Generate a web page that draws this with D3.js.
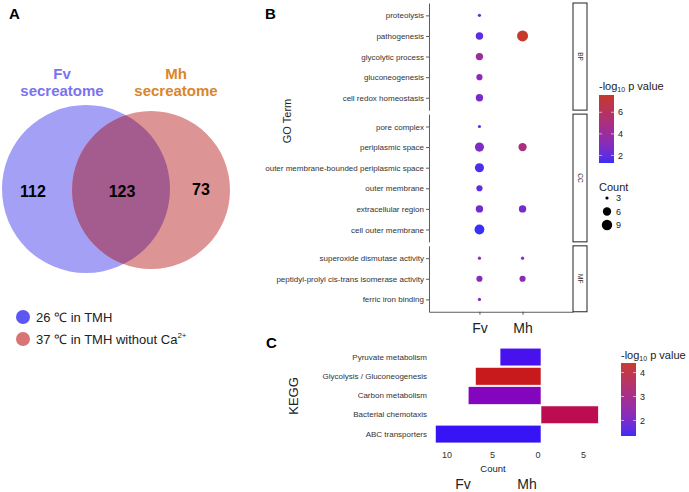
<!DOCTYPE html>
<html>
<head>
<meta charset="utf-8">
<script src="https://cdn.jsdelivr.net/npm/d3@7"></script>
<style>
  body { margin: 0; background: #fff; }
  svg { font-family: "Liberation Sans", Arial, sans-serif; }
</style>
</head>
<body>
<svg id="fig" width="689" height="492"></svg>
<script>
// ---- panel A: venn ----
const vennNames = ["Fv", "Mh"];
const vennCounts = [112, 123, 73]; // Fv only, shared, Mh only
const vennLegend = ["26 ℃ in TMH", "37 ℃ in TMH without Ca"];

// ---- panel B: GO dot plot ----
const goTerms = ["proteolysis", "pathogenesis", "glycolytic process", "gluconeogenesis", "cell redox homeostasis",
  "pore complex", "periplasmic space", "outer membrane-bounded periplasmic space", "outer membrane",
  "extracellular region", "cell outer membrane",
  "superoxide dismutase activity", "peptidyl-prolyl cis-trans isomerase activity", "ferric iron binding"];
const goGroups = ["BP", "BP", "BP", "BP", "BP", "CC", "CC", "CC", "CC", "CC", "CC", "MF", "MF", "MF"];
const groupNames = ["Fv", "Mh"];
const fvCount = [3, 5, 5, 4, 5, 3, 7, 7, 4, 5, 8, 3, 4, 3];
const fvLogP = [2.0, 1.8, 4.2, 3.2, 2.5, 2.0, 2.8, 1.6, 1.8, 2.5, 1.3, 2.9, 3.0, 2.6];
const mhCount = [null, 10, null, null, null, null, 6, null, null, 5, null, 3, 4, null];
const mhLogP = [null, 7.6, null, null, null, null, 5.0, null, null, 2.5, null, 3.0, 3.2, null];
const countBreaks = [3, 6, 9];
const logPBreaksB = [2, 4, 6];

// ---- panel C: KEGG bars ----
const keggTerms = ["Pyruvate metabolism", "Glycolysis / Gluconeogenesis", "Carbon metabolism",
  "Bacterial chemotaxis", "ABC transporters"];
const keggFv = [4.5, 7.2, 8.0, 0, 11.6];
const keggMh = [0, 0, 0, 6.3, 0];
const keggLogP = [1.45, 4.4, 2.1, 3.7, 1.35];
const keggTicks = [-10, -5, 0, 5];
const logPBreaksC = [2, 3, 4];

const svg = d3.select("#fig");

// panel letters
[["A", 9, 19], ["B", 265, 19], ["C", 266, 348]].forEach(([t, x, y]) =>
  svg.append("text").attr("x", x).attr("y", y).attr("font-size", 15).attr("font-weight", "bold").text(t));

// ===== A =====
const gA = svg.append("g");
const cFv = { x: 86, y: 189, r: 84 }, cMh = { x: 151, y: 190, r: 79 };
gA.append("clipPath").attr("id", "fvclip").append("circle")
  .attr("cx", cFv.x).attr("cy", cFv.y).attr("r", cFv.r);
gA.append("circle").attr("cx", cFv.x).attr("cy", cFv.y).attr("r", cFv.r).attr("fill", "#a3a0f6");
gA.append("circle").attr("cx", cMh.x).attr("cy", cMh.y).attr("r", cMh.r).attr("fill", "#dd9494");
gA.append("circle").attr("cx", cMh.x).attr("cy", cMh.y).attr("r", cMh.r).attr("fill", "#a45b8e")
  .attr("clip-path", "url(#fvclip)");

const vennTitleColor = ["#7a73f1", "#d9862c"];
[62, 176].forEach((x, i) => {
  const t = gA.append("text").attr("text-anchor", "middle").attr("font-weight", "bold")
    .attr("font-size", 15).attr("fill", vennTitleColor[i]);
  t.append("tspan").attr("x", x).attr("y", 79).text(vennNames[i]);
  t.append("tspan").attr("x", x).attr("y", 96).text("secreatome");
});
[[33, 197], [122, 197], [201, 195]].forEach(([x, y], i) =>
  gA.append("text").attr("x", x).attr("y", y).attr("text-anchor", "middle")
    .attr("font-weight", "bold").attr("font-size", 16).text(vennCounts[i]));

const legColors = ["#5b57f4", "#d87474"];
vennLegend.forEach((s, i) => {
  const y = 317 + i * 22;
  gA.append("circle").attr("cx", 23).attr("cy", y).attr("r", 7).attr("fill", legColors[i]);
  const t = gA.append("text").attr("x", 36).attr("y", y + 5).attr("font-size", 13).attr("fill", "#222").text(s);
  if (i === 1) t.append("tspan").attr("font-size", 8).attr("dy", -6).text("2+");
});

// ===== B =====
const gB = svg.append("g");
const facets = ["BP", "CC", "MF"];
const rowStep = 20.6, facetGap = 4, topB = 3;
const xB = d3.scalePoint().domain(groupNames).range([429, 573]).padding(1.17);
const colB = d3.scaleLinear().domain([1.3, 7.6]).range(["#3b2ef5", "#c43a2c"]).interpolate(d3.interpolateLab);
const rB = d3.scaleSqrt().domain([0, 7]).range([1.6, 5.5]); // applied to count - 3

let y0 = topB;
let bottomB = 0;
facets.forEach(f => {
  const terms = goTerms.filter((t, i) => goGroups[i] === f);
  const h = (terms.length + 0.2) * rowStep;
  const y = d3.scalePoint().domain(terms).range([y0, y0 + h]).padding(0.6);
  const ax = gB.append("g").attr("transform", "translate(429,0)")
    .call(d3.axisLeft(y).tickSize(3).tickSizeOuter(0).tickPadding(2));
  ax.selectAll("text").attr("font-size", 8).attr("fill", "#333");
  ax.selectAll("line,path").attr("stroke", "#333").attr("stroke-width", 0.8);

  // strip
  gB.append("rect").attr("x", 573).attr("y", y0).attr("width", 14).attr("height", h)
    .attr("fill", "#fff").attr("stroke", "#222").attr("stroke-width", 1);
  gB.append("text").attr("transform", `translate(${580},${y0 + h / 2}) rotate(90)`)
    .attr("text-anchor", "middle").attr("dy", "0.35em").attr("font-size", 6.5).attr("fill", "#333").text(f);

  goTerms.forEach((t, i) => {
    if (goGroups[i] !== f) return;
    [[fvCount, fvLogP, "Fv"], [mhCount, mhLogP, "Mh"]].forEach(([cnt, lp, g]) => {
      if (cnt[i] == null) return;
      gB.append("circle").attr("cx", xB(g)).attr("cy", y(t))
        .attr("r", rB(cnt[i] - 3)).attr("fill", colB(lp[i]));
    });
  });
  bottomB = y0 + h;
  y0 += h + facetGap;
});
const axB = gB.append("g").attr("transform", `translate(0,${bottomB})`)
  .call(d3.axisBottom(xB).tickSize(3).tickSizeOuter(0).tickPadding(8));
axB.selectAll("text").attr("font-size", 14).attr("fill", "#222");
axB.selectAll("line,path").attr("stroke", "#333").attr("stroke-width", 0.8);

gB.append("text").attr("transform", "translate(291,121) rotate(-90)").attr("text-anchor", "middle")
  .attr("font-size", 11).attr("fill", "#222").text("GO Term");

// colour legend helper
function colorLegend(g, id, scale, x, yTop, yBot, breaks, titleY) {
  const dom = scale.domain();
  const yl = d3.scaleLinear().domain(dom).range([yBot, yTop]);
  const grad = g.append("linearGradient").attr("id", id).attr("x1", 0).attr("x2", 0).attr("y1", 1).attr("y2", 0);
  d3.range(0, 1.01, 0.1).forEach(t => grad.append("stop").attr("offset", t)
    .attr("stop-color", scale(dom[0] + t * (dom[1] - dom[0]))));
  g.append("rect").attr("x", x).attr("y", yTop).attr("width", 15).attr("height", yBot - yTop)
    .attr("fill", `url(#${id})`);
  breaks.forEach(b => {
    g.append("line").attr("x1", x).attr("x2", x + 3).attr("y1", yl(b)).attr("y2", yl(b))
      .attr("stroke", "#fff").attr("stroke-opacity", 0.6);
    g.append("line").attr("x1", x + 12).attr("x2", x + 15).attr("y1", yl(b)).attr("y2", yl(b))
      .attr("stroke", "#fff").attr("stroke-opacity", 0.6);
    g.append("text").attr("x", x + 19).attr("y", yl(b)).attr("dy", "0.35em")
      .attr("font-size", 9).attr("fill", "#222").text(b);
  });
  const t = g.append("text").attr("x", x).attr("y", titleY).attr("font-size", 11).attr("fill", "#222").text("-log");
  t.append("tspan").attr("font-size", 7).attr("dy", 2).text("10");
  t.append("tspan").attr("dy", -2).text(" p value");
}
colorLegend(gB, "gradB", colB, 599, 95, 163, logPBreaksB, 90);

gB.append("text").attr("x", 599).attr("y", 191).attr("font-size", 11).attr("fill", "#222").text("Count");
countBreaks.forEach((c, i) => {
  const y = 198 + i * 13.5;
  gB.append("circle").attr("cx", 607).attr("cy", y).attr("r", rB(c - 3)).attr("fill", "#000");
  gB.append("text").attr("x", 616).attr("y", y).attr("dy", "0.35em").attr("font-size", 9).attr("fill", "#222").text(c);
});

// ===== C =====
const gC = svg.append("g");
const xC = d3.scaleLinear().domain([-12, 7]).range([541 - 12 * 9.1, 541 + 7 * 9.1]);
const yC = d3.scaleBand().domain(keggTerms).range([347.4, 443.7]).paddingInner(0.08).paddingOuter(0.04);
const colC = d3.scaleLinear().domain([1.35, 4.4]).range(["#3614f5", "#c8191c"]).interpolate(d3.interpolateLab);
const colCLegend = d3.scaleLinear().domain([1.35, 4.4]).range(["#3b2ef5", "#c83c33"]).interpolate(d3.interpolateLab);

keggTerms.forEach((t, i) => {
  [-keggFv[i], keggMh[i]].forEach(v => {
    if (!v) return;
    gC.append("rect").attr("x", xC(Math.min(0, v))).attr("y", yC(t))
      .attr("width", Math.abs(xC(v) - xC(0))).attr("height", yC.bandwidth())
      .attr("fill", colC(keggLogP[i])).attr("stroke", "#fff").attr("stroke-width", 0.6);
  });
});
const ayC = gC.append("g").attr("transform", "translate(432,0)").call(d3.axisLeft(yC).tickSize(0).tickPadding(5));
ayC.select(".domain").remove();
ayC.selectAll("text").attr("font-size", 8).attr("fill", "#333");

const axC = gC.append("g").attr("transform", "translate(0,443)")
  .call(d3.axisBottom(xC).tickValues(keggTicks).tickFormat(d => Math.abs(d)).tickSize(0).tickPadding(8.5));
axC.select(".domain").remove();
axC.selectAll("text").attr("font-size", 9).attr("fill", "#333").attr("dx", -3.5);

gC.append("text").attr("x", 493).attr("y", 472).attr("text-anchor", "middle").attr("font-size", 9.5)
  .attr("fill", "#222").text("Count");
[463, 527].forEach((x, i) => gC.append("text").attr("x", x).attr("y", 489).attr("text-anchor", "middle")
  .attr("font-size", 14).attr("fill", "#222").text(groupNames[i]));
gC.append("text").attr("transform", "translate(298,396) rotate(-90)").attr("text-anchor", "middle")
  .attr("font-size", 13).attr("fill", "#222").text("KEGG");

colorLegend(gC, "gradC", colCLegend, 621, 363, 436, logPBreaksC, 359);
</script>
</body>
</html>
